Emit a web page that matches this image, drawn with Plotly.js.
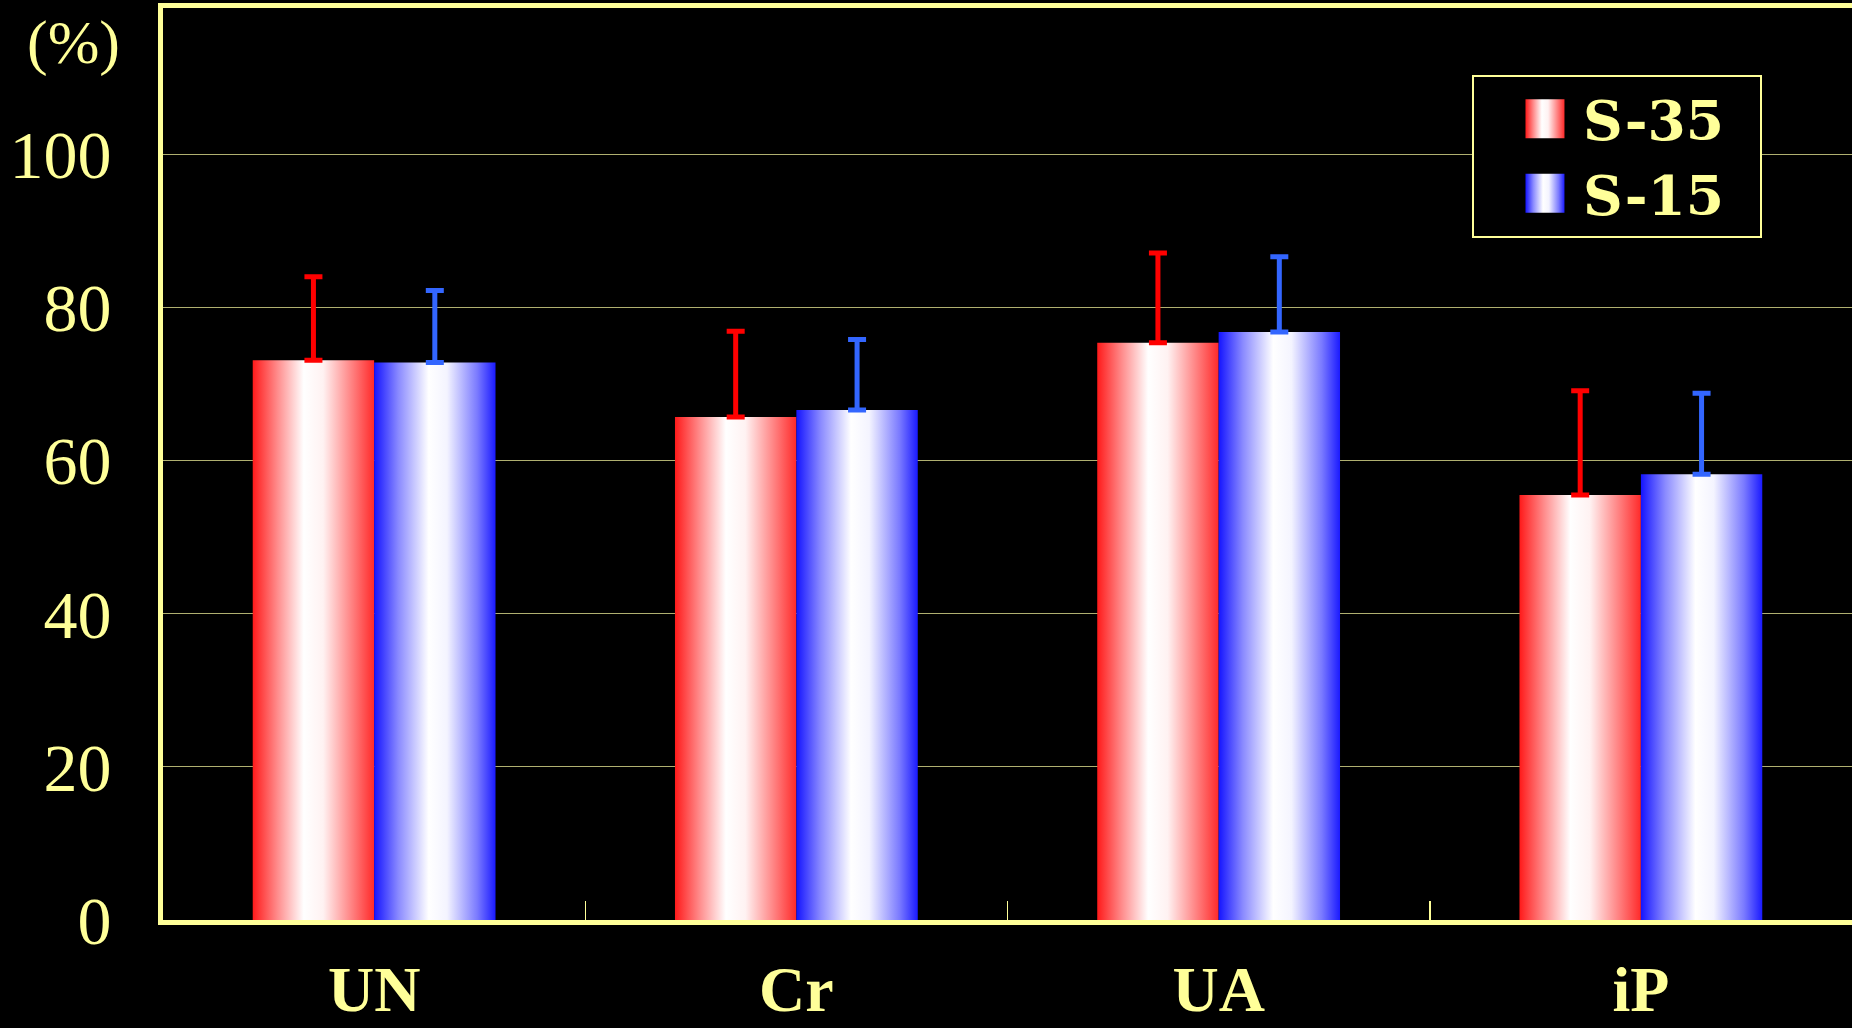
<!DOCTYPE html>
<html><head><meta charset="utf-8">
<script src="https://cdn.plot.ly/plotly-3.0.1.min.js"></script>
<style>html,body{margin:0;padding:0;background:#000;} #chart{width:1852px;height:1028px;}</style>
</head><body>
<svg width="0" height="0" style="position:absolute">
<defs>
<linearGradient id="gRed" x1="0" y1="0" x2="1" y2="0">
 <stop offset="0" stop-color="#ff1a1a"/>
 <stop offset="0.2" stop-color="#ff8a8a"/>
 <stop offset="0.42" stop-color="#ffffff"/>
 <stop offset="0.58" stop-color="#fff2f2"/>
 <stop offset="0.82" stop-color="#ff8080"/>
 <stop offset="1" stop-color="#ff2a2a"/>
</linearGradient>
<linearGradient id="gBlue" x1="0" y1="0" x2="1" y2="0">
 <stop offset="0" stop-color="#1414ff"/>
 <stop offset="0.2" stop-color="#8a8aff"/>
 <stop offset="0.45" stop-color="#ffffff"/>
 <stop offset="0.6" stop-color="#f4f4ff"/>
 <stop offset="0.85" stop-color="#7a7aff"/>
 <stop offset="1" stop-color="#1a1aff"/>
</linearGradient>
</defs>
</svg>
<div id="chart"></div>
<script>
const categories = ['UN', 'Cr', 'UA', 'iP'];
const seriesNames = ['S-35', 'S-15'];
const s35 = [73.1, 65.7, 75.4, 55.5];
const s35err = [10.9, 11.2, 11.7, 13.6];
const s15 = [72.8, 66.6, 76.8, 58.2];
const s15err = [9.4, 9.2, 9.8, 10.6];
const yTicks = [0, 20, 40, 60, 80, 100];

const txt = '#ffff99';
const fontFam = '"Liberation Serif", "Times New Roman", serif';
const legFam = '"DejaVu Serif", serif';

const data = [
  {type:'bar', name:seriesNames[0], x:categories, y:s35,
   marker:{color:'#ff2020', line:{width:0}},
   error_y:{type:'data', array:s35err, arrayminus:[0,0,0,0], symmetric:false, color:'#ff0000', thickness:5, width:9}},
  {type:'bar', name:seriesNames[1], x:categories, y:s15,
   marker:{color:'#2020ff', line:{width:0}},
   error_y:{type:'data', array:s15err, arrayminus:[0,0,0,0], symmetric:false, color:'#3366ff', thickness:5, width:9}}
];

const layout = {
  width:1852, height:1028,
  paper_bgcolor:'#000', plot_bgcolor:'#000',
  margin:{l:163, r:0, t:8, b:108},
  barmode:'group', bargap:0.425, bargroupgap:0,
  font:{family:fontFam, color:txt},
  xaxis:{range:[-0.5,3.5], showgrid:false, showline:true, linecolor:txt, linewidth:5, mirror:true,
    ticks:'inside', tickson:'boundaries', ticklen:19, tickwidth:1.5, tickcolor:txt,
    tickfont:{size:64, color:txt, family:fontFam, weight:'bold'}, ticklabelstandoff:9},
  yaxis:{range:[0,119.1], tickvals:yTicks, showgrid:true, gridcolor:'rgba(235,235,150,0.75)', gridwidth:1,
    showline:true, linecolor:txt, linewidth:5, zeroline:false, ticks:'',
    tickfont:{size:68, color:txt, family:fontFam}, ticklabelstandoff:33},
  showlegend:true,
  legend:{x:0.775, y:0.927, xanchor:'left', yanchor:'top', bgcolor:'#000', bordercolor:txt, borderwidth:2,
    font:{size:55, color:txt, family:legFam, weight:'bold'}, itemwidth:99},
  annotations:[{text:'(%)', xref:'paper', yref:'paper', x:-0.053, y:0.962, showarrow:false,
    font:{size:62, color:txt, family:fontFam}, xanchor:'center', yanchor:'middle'}]
};

Plotly.newPlot('chart', data, layout, {staticPlot:true, displayModeBar:false}).then(gd => {
  const grads = ['url(#gRed)', 'url(#gBlue)'];
  gd.querySelectorAll('.barlayer .trace').forEach((t,i) => {
    t.querySelectorAll('.point path').forEach(p => { p.style.fill = grads[i]; });
  });
  gd.querySelectorAll('.legend .traces').forEach((t,i) => {
    t.querySelectorAll('.legendpoints path').forEach(p => {
      p.style.fill = grads[i];
      p.setAttribute('transform', 'translate(71,0) scale(3.25)');
    });
  });
  const bg = gd.querySelector('.legend rect.bg');
  if (bg) {
    const w = parseFloat(bg.getAttribute('width'));
    bg.setAttribute('width', w + 30);
  }
});
</script>
</body></html>
